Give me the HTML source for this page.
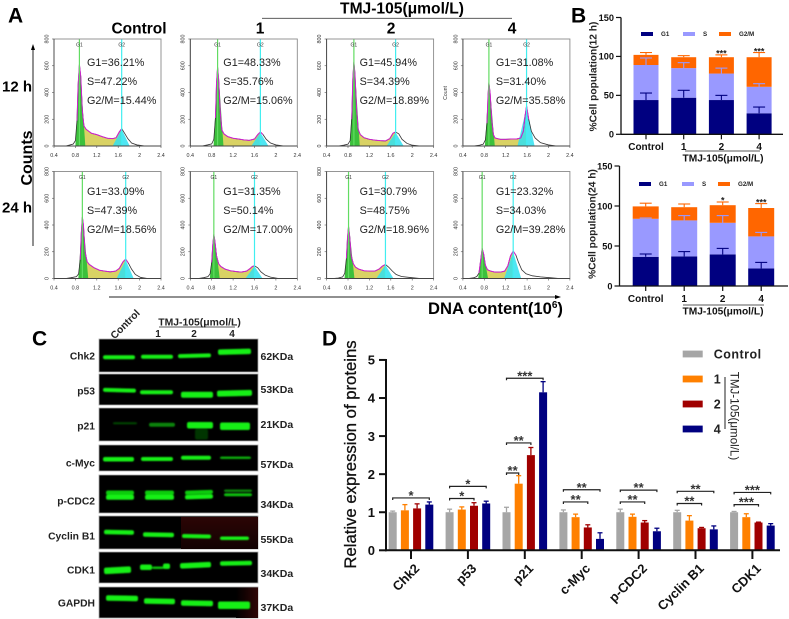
<!DOCTYPE html>
<html lang="en">
<head>
<meta charset="utf-8">
<title>TMJ-105 cell cycle figure</title>
<style>
html,body{margin:0;padding:0;background:#fff;}
svg{display:block;font-family:"Liberation Sans",Arial,sans-serif;filter:blur(0.3px);}
</style>
</head>
<body>
<svg id="figure" xmlns="http://www.w3.org/2000/svg" width="789" height="619" viewBox="0 0 789 619">
<defs>
<filter id="bandBlur" x="-10%" y="-60%" width="120%" height="220%"><feGaussianBlur stdDeviation="0.9"/></filter>
<linearGradient id="redFadeDown" x1="0" y1="0" x2="0" y2="1"><stop offset="0" stop-color="#2c0505"/><stop offset="1" stop-color="#120202"/></linearGradient>
<linearGradient id="redFadeRight" x1="0" y1="0" x2="1" y2="0"><stop offset="0" stop-color="#000"/><stop offset="1" stop-color="#300606"/></linearGradient>
</defs>
<rect width="789" height="619" fill="#fff"/>
</svg>
<script>
/* ---------- Panel A: flow cytometry histograms ---------- */
const columnHeaders = ['Control', '1', '2', '4'];
const rowLabels = ['12 h', '24 h'];
const histogramXTicks = [0.4, 0.8, 1.2, 1.6, 2, 2.4];
const histogramYTicks = [0, 200, 400, 600, 800];

const g1Text = ['36.21', '48.33', '45.94', '31.08', '33.09', '31.35', '30.79', '23.32'];
const sText = ['47.22', '35.76', '34.39', '31.40', '47.39', '50.14', '48.75', '34.03'];
const g2Text = ['15.44', '15.06', '18.89', '35.58', '18.56', '17.00', '18.96', '39.28'];

const g1Peaks = [0.875, 0.91, 0.91, 0.886, 0.93, 0.84, 0.81, 0.76];
const g1Heights = [610, 590, 630, 475, 460, 330, 390, 225];
const g2Peaks = [1.665, 1.71, 1.69, 1.59, 1.74, 1.6, 1.5, 1.34];
const g2Heights = [130, 105, 105, 300, 145, 95, 105, 205];

const dnaControl12 = [.62,.70,.76,.80,.83,.85,.875,.90,.93,.96,1.0,1.1,1.2,1.3,1.4,1.5,1.56,1.62,1.665,1.72,1.78,1.85,1.95,2.1];
const countControl12 = [0,8,15,40,190,450,610,520,260,150,125,95,85,70,58,55,62,105,130,95,55,22,8,0];
const dnaDose1At12 = [.62,.72,.80,.84,.87,.89,.91,.93,.96,.99,1.03,1.1,1.2,1.3,1.4,1.5,1.6,1.66,1.71,1.76,1.82,1.9,2.0,2.15];
const countDose1At12 = [0,8,16,50,210,470,590,500,250,120,90,70,58,52,46,42,52,85,105,85,50,22,8,0];
const dnaDose2At12 = [.62,.72,.80,.84,.87,.89,.91,.93,.96,.99,1.03,1.1,1.2,1.3,1.4,1.5,1.58,1.64,1.69,1.75,1.81,1.9,2.0,2.15];
const countDose2At12 = [0,6,14,40,200,500,630,540,280,125,85,62,50,44,40,38,55,95,105,90,50,20,6,0];
const dnaDose4At12 = [.60,.70,.78,.82,.85,.87,.886,.91,.94,.97,1.0,1.1,1.2,1.3,1.4,1.48,1.53,1.56,1.59,1.63,1.68,1.75,1.85,2.0,2.15];
const countDose4At12 = [0,5,14,45,170,380,475,390,190,85,60,50,50,52,52,60,110,220,300,200,110,60,25,8,0];
const dnaControl24 = [.62,.72,.82,.86,.89,.91,.93,.95,.98,1.02,1.06,1.15,1.25,1.35,1.45,1.55,1.62,1.69,1.74,1.79,1.85,1.92,2.02,2.15];
const countControl24 = [0,6,14,35,140,340,460,400,200,125,105,80,62,55,50,55,75,125,145,115,70,30,8,0];
const dnaDose1At24 = [.55,.65,.73,.77,.80,.82,.84,.86,.89,.93,.97,1.05,1.15,1.25,1.35,1.45,1.52,1.56,1.6,1.66,1.72,1.8,1.9,2.05];
const countDose1At24 = [0,6,14,35,120,250,330,280,170,110,90,70,58,52,48,55,75,90,95,80,50,25,10,0];
const dnaDose2At24 = [.52,.62,.70,.74,.77,.79,.81,.83,.86,.90,.94,1.0,1.1,1.2,1.3,1.38,1.44,1.5,1.56,1.63,1.7,1.8,1.95,2.15];
const countDose2At24 = [0,4,12,40,150,300,390,320,170,110,85,70,58,55,55,70,92,105,85,55,30,15,8,0];
const dnaDose4At24 = [.5,.6,.66,.70,.73,.76,.79,.82,.86,.92,1.0,1.1,1.18,1.24,1.29,1.34,1.39,1.44,1.5,1.58,1.7,1.85,2.05,2.2];
const countDose4At24 = [0,5,15,40,130,225,180,100,65,55,48,48,55,95,170,205,175,120,65,35,20,12,5,0];

const histogramDna = [dnaControl12, dnaDose1At12, dnaDose2At12, dnaDose4At12, dnaControl24, dnaDose1At24, dnaDose2At24, dnaDose4At24];
const histogramCounts = [countControl12, countDose1At12, countDose2At12, countDose4At12, countControl24, countDose1At24, countDose2At24, countDose4At24];

/* ---------- Panel B: stacked cell population bars ---------- */
const stackCategories = ['Control', '1', '2', '4'];
const stackLegend = ['G1', 'S', 'G2/M'];
const stackTicks = [0, 50, 100, 150];
const g1Values12 = [44, 47, 44, 27];
const sValues12 = [45, 38, 34, 34];
const g2Values12 = [13, 14, 21, 38];
const g1Errors12 = [9, 9.5, 6, 8];
const sErrors12 = [9, 7, 7, 4];
const g2Errors12 = [3, 2, 3, 6];
const stars12 = ['', '', '***', '***'];
const g1Values24 = [36.5, 37, 39.5, 22];
const sValues24 = [47.5, 45, 39.5, 40];
const g2Values24 = [15.5, 16.5, 22, 35.5];
const g1Errors24 = [3.5, 6, 7.5, 7.5];
const sErrors24 = [1, 6, 9, 5];
const g2Errors24 = [4, 4, 4, 5.5];
const stars24 = ['', '', '*', '***'];

/* ---------- Panel D: relative protein expression ---------- */
const proteins = ['Chk2', 'p53', 'p21', 'c-Myc', 'p-CDC2', 'Cyclin B1', 'CDK1'];
const expressionTicks = [0, 1, 2, 3, 4, 5];
const controlValues = [1, 1, 1, 1, 1, 1, 1];
const dose1Values = [1.05, 1.07, 1.75, 0.87, 0.88, 0.78, 0.87];
const dose2Values = [1.1, 1.17, 2.5, 0.6, 0.73, 0.58, 0.73];
const dose4Values = [1.2, 1.23, 4.15, 0.3, 0.5, 0.55, 0.65];
const controlTops = [1.03, 1.08, 1.13, 1.06, 1.08, 1.05, 1.02];
const dose1Tops = [1.2, 1.14, 1.96, 0.95, 0.95, 0.91, 0.96];
const dose2Tops = [1.22, 1.25, 2.7, 0.67, 0.78, 0.6, 0.74];
const dose4Tops = [1.27, 1.29, 4.43, 0.46, 0.58, 0.64, 0.7];
const bracketProteins = [0, 1, 1, 2, 2, 2, 3, 3, 4, 4, 5, 5, 6, 6];
const bracketEndBars = [3, 2, 3, 1, 2, 3, 2, 3, 2, 3, 2, 3, 2, 3];
const bracketLevels = [1.375, 1.36, 1.68, 2.03, 2.82, 4.52, 1.27, 1.59, 1.27, 1.58, 1.23, 1.55, 1.2, 1.52];
const bracketStars = ['*', '*', '*', '**', '**', '***', '**', '**', '**', '**', '**', '**', '***', '***'];
const doseLegend = ['Control', '1', '2', '4'];
const doseColors = ['#a6a6a6', '#ff8000', '#a00000', '#000080'];

/* ---------- Panel C: western blot rows ---------- */
const blotNames = ['Chk2', 'p53', 'p21', 'c-Myc', 'p-CDC2', 'Cyclin B1', 'CDK1', 'GAPDH'];
const blotSizes = ['62KDa', '53KDa', '21KDa', '57KDa', '34KDa', '55KDa', '34KDa', '37KDa'];
const blotFrames = [[339,372],[374,405],[408,441],[445,471],[475,513],[516,549],[552,583],[587,618]];
const blotNameY = [356,391,426,463,501,536,570,603];
const blotSizeY = [356,389,424,464,504,539,573,607];
const blotBands = [
 [0,103,135,357,3.5,1,0],[0,141,173,356.5,3.5,1,0],[0,178,211,355.5,3.5,1,-1.5],[0,218,251,351.5,5,1,-1.5],
 [1,103,136,390,3.5,1,1.5],[1,140,173,392,3.5,1,0],[1,181,213,394.5,5.5,1,0],[1,217,252,393,5.5,1,-1.5],
 [2,113,137,423,1.5,.3,0],[2,149,175,424.5,3.5,.55,0],[2,187,213,425,6,1,0],[2,195,208,434,10,.22,0],[2,220,250,426,7,1,0],
 [3,103,134,459,4,1,0],[3,141,173,458.7,3.5,1,0],[3,181,211,457.5,3.5,1,0],[3,220,251,457.5,2,.7,0],
 [4,106,134,492.5,4,.85,0],[4,106,134,497,4.5,1,0],[4,145,174,492.5,4,.85,0],[4,145,174,497,4.5,1,0],[4,185,213,492,3.5,.85,-2],[4,185,213,496.5,4,1,-2],[4,224,252,490.5,2,.55,0],[4,224,252,494.5,2.5,.8,0],
 [5,104,134,532,4,1,1],[5,143,174,534.5,4,1,1],[5,182,211,536,3.5,1,1],[5,220,249,538,3,1,0],
 [6,104,131,570,6,1,-3],[6,140,152,567,5,1,0],[6,152,164,567.5,2,.8,0],[6,163,170,566,5,1,0],[6,180,211,565,5,1,-2.5],[6,220,252,563,4,1,-1],
 [7,106,138,598,5,1,1],[7,144,175,601,5,1,1],[7,181,213,603,5,1,1],[7,218,250,605,7,1,0]
];

/* ---------- Drawing helpers ---------- */
const root = document.getElementById('figure');
function add(tag, attrs, parent) {
  const el = document.createElementNS('http://www.w3.org/2000/svg', tag);
  for (const k in attrs) el.setAttribute(k, attrs[k]);
  (parent || root).appendChild(el);
  return el;
}
function line(x1, y1, x2, y2, stroke, w, parent) {
  return add('line', {x1: x1, y1: y1, x2: x2, y2: y2, stroke: stroke, 'stroke-width': w}, parent);
}
function rect(x, y, w, h, fill, parent) {
  return add('rect', {x: x, y: y, width: w, height: h, fill: fill}, parent);
}
function text(x, y, str, size, weight, anchor, fill, angle, parent) {
  const el = add('text', {x: x, y: y, dy: '0.36em', 'font-size': size, 'font-weight': weight, 'text-anchor': anchor, fill: fill}, parent);
  if (angle) el.setAttribute('transform', 'rotate(' + angle + ' ' + x + ' ' + y + ')');
  el.textContent = str;
  return el;
}
function group(parent) {
  return add('g', {}, parent);
}

/* ---------- Panel letters and shared headings ---------- */
const panelLetters = ['A', 'B', 'C', 'D'];
const letterX = [8, 571, 32, 322];
const letterY = [15, 15, 338, 338];
panelLetters.forEach(function (letter, i) {
  const el = text(letterX[i], letterY[i], letter, 21, 'bold', 'start', '#000', 0);
  
  
});

/* ---------- Panel A ---------- */
const panelWidth = 107;
const panelHeight = 107;
function panelLeft(col) { return 54 + col * 136.3; }
function panelTop(row) { return 39 + row * 132.5; }
function histX(col, dna) { return panelLeft(col) + (dna - 0.4) / 2 * panelWidth; }
function histY(row, count) { return panelTop(row) + panelHeight - count / 800 * panelHeight; }

const headerCentre = [139, 260, 391, 512];
columnHeaders.forEach(function (label, c) {
  const el = text(headerCentre[c], 28, label, 15.5, 'bold', 'middle', '#000', 0);
  
  
});
let el = line(262, 18.3, 512, 18.3, '#444', 0.9);


el = text(402, 8, 'TMJ-105(μmol/L)', 15.6, 'bold', 'middle', '#000', 0);


const rowY = [86, 207];
rowLabels.forEach(function (label, r) {
  const t = text(2, rowY[r], label, 15, 'bold', 'start', '#000', 0);
  
  
});
el = text(26, 158, 'Counts', 16, 'bold', 'middle', '#000', -90);


el = line(33, 48, 33, 246, '#222', 1);


el = add('polygon', {points: '33,44 31,50 35,50', fill: '#000'});


el = line(109, 297, 556, 297, '#222', 1);


el = add('polygon', {points: '561,297 555,295 555,299', fill: '#000'});


el = add('text', {x: 428, y: 314, 'font-size': 16.6, 'font-weight': 'bold', fill: '#000'});


el.textContent = 'DNA content(10';
const expo = add('tspan', {dy: -6, 'font-size': 10}, el);


expo.textContent = '6';
const closing = add('tspan', {dy: 6}, el);


closing.textContent = ')';

histogramDna.forEach(function (dnaValues, i) {
  const row = i < 4 ? 0 : 1;
  const col = i % 4;
  const counts = histogramCounts[i];
  const left = panelLeft(col);
  const top = panelTop(row);
  const g = group();
  
  

  const p = g1Peaks[i];
  const q = g2Peaks[i];
  const sPts = [[p, 0]];
  dnaValues.forEach(function (d, k) { if (d >= p && d <= q) sPts.push([d, counts[k]]); });
  sPts.push([q, 0]);
  let m = add('polygon', {points: sPts.map(function (a) { return histX(col, a[0]) + ',' + histY(row, a[1]); }).join(' '), fill: '#d9d264'}, g);
  
  

  const g1Pts = [[p - 0.075, 0], [p, g1Heights[i]], [p + 0.03, g1Heights[i] * 0.8], [p + 0.11, 0]];
  m = add('polygon', {points: g1Pts.map(function (a) { return histX(col, a[0]) + ',' + histY(row, a[1]); }).join(' '), fill: '#3cc03c'}, g);
  
  

  const g2Pts = [[q - 0.17, 0], [q, g2Heights[i] * 0.96], [q + 0.15, 0]];
  m = add('polygon', {points: g2Pts.map(function (a) { return histX(col, a[0]) + ',' + histY(row, a[1]); }).join(' '), fill: '#30e0f0', 'fill-opacity': 0.85}, g);
  
  

  m = add('polyline', {points: dnaValues.map(function (d, k) { return histX(col, d) + ',' + histY(row, counts[k]); }).join(' '), fill: 'none', stroke: '#333', 'stroke-width': 0.8}, g);
  
  

  const fitPts = [];
  dnaValues.forEach(function (d, k) { if (d >= p - 0.06 && d <= q + 0.05) fitPts.push(histX(col, d) + ',' + histY(row, counts[k])); });
  m = add('polyline', {points: fitPts.join(' '), fill: 'none', stroke: '#d020d0', 'stroke-width': 1}, g);
  
  

  m = line(histX(col, p), top, histX(col, p), top + panelHeight, '#62dc62', 1.2, g);
  
  
  m = line(histX(col, q), top, histX(col, q), top + panelHeight, '#40eef0', 1.2, g);
  
  

  m = add('rect', {x: left, y: top, width: panelWidth, height: panelHeight, fill: 'none', stroke: '#8a8a8a', 'stroke-width': 0.9}, g);
  
  
  m = line(left, top + panelHeight, left + panelWidth, top + panelHeight, '#444', 0.9, g);
  
  
  m = line(left, top, left, top + panelHeight, '#444', 0.9, g);
  
  

  m = text(histX(col, p), top + 5.5, 'G1', 5, 'normal', 'middle', '#333', 0, g);
  
  
  m = text(histX(col, q), top + 5.5, 'G2', 5, 'normal', 'middle', '#333', 0, g);
  
  

  histogramXTicks.forEach(function (t) {
    const tk = line(histX(col, t), top + panelHeight, histX(col, t), top + panelHeight + 2, '#555', 0.6, g);
    
    
    const lb = text(histX(col, t), top + panelHeight + 9, String(t), 5.4, 'normal', 'middle', '#333', 0, g);
    
    
  });
  histogramYTicks.forEach(function (t) {
    const tk = line(left - 2, histY(row, t), left, histY(row, t), '#555', 0.6, g);
    
    
    const lb = text(left - 7.5, histY(row, t), String(t), 5.4, 'normal', 'middle', '#333', -90, g);
    
    
  });

  const tx = left + 33;
  const ty = row === 0 ? 62 : 191;
  m = text(tx, ty, 'G1=' + g1Text[i] + '%', 10.8, 'normal', 'start', '#222', 0, g);
  
  
  m = text(tx, ty + 19, 'S=' + sText[i] + '%', 10.8, 'normal', 'start', '#222', 0, g);
  
  
  m = text(tx, ty + 38, 'G2/M=' + g2Text[i] + '%', 10.8, 'normal', 'start', '#222', 0, g);
  
  
});
el = text(445, 93, 'Count', 5.2, 'normal', 'middle', '#333', -90);



/* ---------- Panel B ---------- */
const stackColors = ['#000080', '#9999ff', '#ff6600'];
function drawStack(cfg) {
  const g = group();
  
  
  const yScale = function (v) { return cfg.y0 - v * cfg.unit; };
  const xScale = function (i) { return cfg.firstX + i * cfg.stepX; };

  cfg.g1.forEach(function (v, i) {
    const x = xScale(i) - cfg.barW / 2;
    const s = cfg.s[i];
    const t = cfg.g2[i];
    let b = rect(x, yScale(v), cfg.barW, v * cfg.unit, stackColors[0], g);
    
    
    b = rect(x, yScale(v + s), cfg.barW, s * cfg.unit, stackColors[1], g);
    
    
    b = rect(x, yScale(v + s + t), cfg.barW, t * cfg.unit, stackColors[2], g);
    
    
    const tops = [v, v + s, v + s + t];
    const errs = [cfg.g1Err[i], cfg.sErr[i], cfg.g2Err[i]];
    [2, 1, 0].forEach(function (k) {
      const st = line(xScale(i), yScale(tops[k]), xScale(i), yScale(tops[k] + errs[k]), stackColors[k], 1.1, g);
      
      
      const cp = line(xScale(i) - 6, yScale(tops[k] + errs[k]), xScale(i) + 6, yScale(tops[k] + errs[k]), stackColors[k], 1.1, g);
      
      
    });
    if (cfg.stars[i]) {
      const st = text(xScale(i), yScale(tops[2] + errs[2]) - cfg.starGap, cfg.stars[i], 9, 'bold', 'middle', '#222', 0, g);
      st.setAttribute('dy', '0.58em');
      
      
    }
    const tk = line(xScale(i), cfg.y0, xScale(i), cfg.y0 + 5, '#111', 1.2, g);
    
    
    const lb = text(xScale(i), cfg.labelY, stackCategories[i], 10, 'bold', 'middle', '#111', 0, g);
    
    
  });

  let a = line(cfg.axisX, yScale(150), cfg.axisX, cfg.y0, '#111', 1.3, g);
  
  
  a = line(cfg.axisX, cfg.y0, cfg.axisEnd, cfg.y0, '#111', 1.3, g);
  
  
  stackTicks.forEach(function (t) {
    const tk = line(cfg.axisX - 5, yScale(t), cfg.axisX, yScale(t), '#111', 1.2, g);
    
    
    const lb = text(cfg.axisX - 7, yScale(t), String(t), 9.2, 'bold', 'end', '#111', 0, g);
    
    
  });
  a = text(cfg.titleX, cfg.titleY, cfg.title, 10.2, 'bold', 'middle', '#222', -90, g);
  
  

  stackLegend.forEach(function (label, k) {
    const sw = rect(cfg.legendX[k], cfg.legendY - 2, 12, 4, stackColors[k], g);
    
    
    const lb = text(cfg.legendX[k] + 20, cfg.legendY, label, 6.2, 'bold', 'start', '#222', 0, g);
    
    
  });

  a = line(cfg.doseLine[0], cfg.doseLineY, cfg.doseLine[1], cfg.doseLineY, '#222', 0.8, g);
  
  
  a = text(723, cfg.doseTitleY, 'TMJ-105(μmol/L)', 10.2, 'bold', 'middle', '#111', 0, g);
  
  
}
drawStack({
  name: 'stacked-bars-12h', y0: 134.3, unit: 0.7787, firstX: 646, stepX: 37.7, barW: 25, axisX: 621, axisEnd: 783,
  g1: g1Values12, s: sValues12, g2: g2Values12, g1Err: g1Errors12, sErr: sErrors12, g2Err: g2Errors12, stars: stars12, starGap: 3.5,
  labelY: 146.5, title: '%Cell population(12 h)', titleX: 593, titleY: 76.5, legendX: [641, 683, 719], legendY: 34,
  doseLine: [685, 760], doseLineY: 151, doseTitleY: 158
});
drawStack({
  name: 'stacked-bars-24h', y0: 286, unit: 0.8, firstX: 645.7, stepX: 38.5, barW: 26, axisX: 619.5, axisEnd: 788,
  g1: g1Values24, s: sValues24, g2: g2Values24, g1Err: g1Errors24, sErr: sErrors24, g2Err: g2Errors24, stars: stars24, starGap: 3.5,
  labelY: 298.5, title: '%Cell population(24 h)', titleX: 592, titleY: 224, legendX: [639, 682, 718], legendY: 184,
  doseLine: [683, 764], doseLineY: 305, doseTitleY: 311
});

/* ---------- Panel C ---------- */
const blotGroup = group();


blotNames.forEach(function (name, i) {
  const f = blotFrames[i];
  const r = add('rect', {x: 99, y: f[0], width: 159, height: f[1] - f[0], fill: '#000', stroke: '#aaa', 'stroke-width': 0.8}, blotGroup);
  
  
  const a = text(95, blotNameY[i], name, 10.3, 'bold', 'end', '#222', 0, blotGroup);
  
  
  const b = text(260.5, blotSizeY[i], blotSizes[i], 10.5, 'bold', 'start', '#222', 0, blotGroup);
  
  
});
el = rect(181, 517, 77, 32, 'url(#redFadeDown)', blotGroup);


el = rect(236, 587.5, 22, 30.5, 'url(#redFadeRight)', blotGroup);


const bandLayer = add('g', {filter: 'url(#bandBlur)'}, blotGroup);


blotBands.forEach(function (b) {
  const r = add('rect', {x: b[1], y: b[3] - b[4] / 2, width: b[2] - b[1], height: b[4] + 0.5, rx: 2, fill: '#12f012', 'fill-opacity': b[5]}, bandLayer);
  if (b[6]) r.setAttribute('transform', 'rotate(' + b[6] + ' ' + (b[1] + b[2]) / 2 + ' ' + b[3] + ')');
  
  
});
el = text(112, 337, 'Control', 10.3, 'bold', 'start', '#222', -45);


el = text(199.5, 322, 'TMJ-105(μmol/L)', 10.4, 'bold', 'middle', '#222', 0);


el = line(159, 327, 235, 327, '#222', 0.8);


const blotDoseX = [158, 194, 232];
['1', '2', '4'].forEach(function (d, i) {
  const t = text(blotDoseX[i], 333.5, d, 10, 'bold', 'middle', '#222', 0);
  
  
});

/* ---------- Panel D ---------- */
const expressionGroup = group();


function expY(v) { return 550.3 - v * 38.07; }
function groupX(i) { return 411 + i * 56.9; }
function barX(i, k) { return groupX(i) + (k - 1.5) * 12.2; }
const doseValues = [controlValues, dose1Values, dose2Values, dose4Values];
const doseTops = [controlTops, dose1Tops, dose2Tops, dose4Tops];
proteins.forEach(function (name, i) {
  doseValues.forEach(function (series, k) {
    const st = line(barX(i, k), expY(series[i]), barX(i, k), expY(doseTops[k][i]), doseColors[k], 1.3, expressionGroup);
    
    
    const cp = line(barX(i, k) - 2.5, expY(doseTops[k][i]), barX(i, k) + 2.5, expY(doseTops[k][i]), doseColors[k], 1.3, expressionGroup);
    
    
    const b = rect(barX(i, k) - 4, expY(series[i]), 8, series[i] * 38.07, doseColors[k], expressionGroup);
    
    
  });
  const tk = line(groupX(i), expY(0), groupX(i), 559, '#111', 2, expressionGroup);
  
  
  const lb = text(groupX(i) + 6, 566, name, 13, 'bold', 'end', '#111', -45, expressionGroup);
  
  
});
el = line(386, expY(5) - 1, 386, expY(0) + 1, '#111', 2, expressionGroup);


el = line(385, expY(0), 780, expY(0), '#111', 2, expressionGroup);


expressionTicks.forEach(function (t) {
  const tk = line(379, expY(t), 386, expY(t), '#111', 2, expressionGroup);
  
  
  const lb = text(375, expY(t), String(t), 13, 'bold', 'end', '#111', 0, expressionGroup);
  
  
});
el = text(350, 454.5, 'Relative expression of proteins', 16.7, 'normal', 'middle', '#111', -90, expressionGroup);
el.setAttribute('stroke', '#111');
el.setAttribute('stroke-width', '0.3');


bracketLevels.forEach(function (level, i) {
  const x1 = barX(bracketProteins[i], 0);
  const x2 = barX(bracketProteins[i], bracketEndBars[i]);
  const y = expY(level);
  const br = add('polyline', {points: x1 + ',' + (y + 2) + ' ' + x1 + ',' + y + ' ' + x2 + ',' + y + ' ' + x2 + ',' + (y + 2), fill: 'none', stroke: '#222', 'stroke-width': 1.2}, expressionGroup);
  
  
  const st = text((x1 + x2) / 2, y - 5.5, bracketStars[i], 13, 'bold', 'middle', '#333', 0, expressionGroup);
  st.setAttribute('dy', '0.58em');
  
  
});
const legendRowY = [354, 379, 404, 429];
doseLegend.forEach(function (label, k) {
  const sw = rect(682.7, legendRowY[k] - 3.4, 20, 6.8, doseColors[k], expressionGroup);
  
  
  const lb = text(713.7, legendRowY[k], label, 12.5, 'bold', 'start', '#222', 0, expressionGroup);
  if (k === 0) lb.setAttribute('letter-spacing', '0.5');
  
  
});
el = line(725, 377, 725, 429, '#222', 1, expressionGroup);


el = text(734.5, 416, 'TMJ-105(μmol/L)', 11.6, 'normal', 'middle', '#222', 90, expressionGroup);


</script>
</body>
</html>
